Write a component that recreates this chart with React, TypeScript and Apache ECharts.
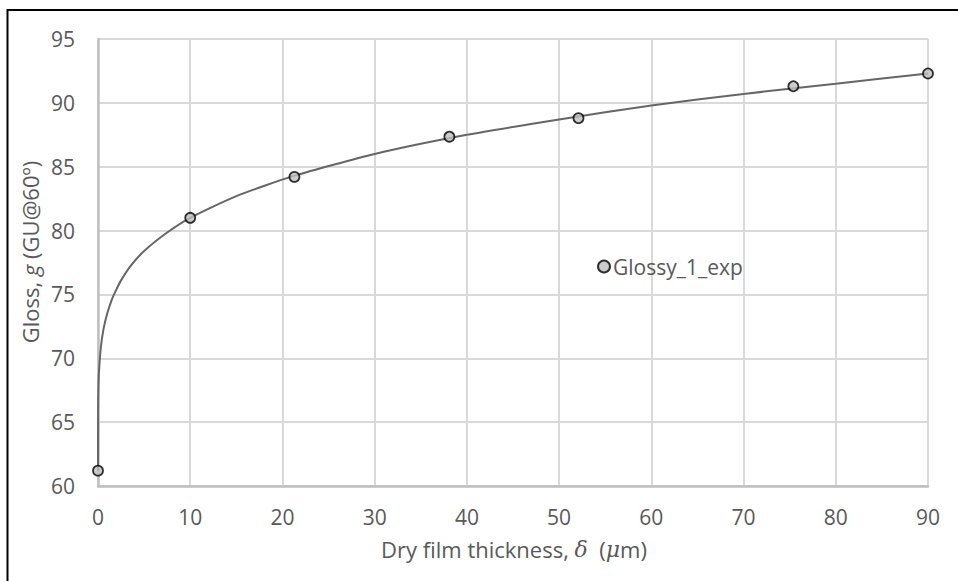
import React, { useEffect, useRef } from "react";
import * as echarts from "echarts";

// Measured points (Glossy_1_exp)
const thicknessExp = [0, 10, 21.3, 38.1, 52.1, 75.4, 90];
const glossExp = [61.2, 81.0, 84.2, 87.35, 88.8, 91.3, 92.3];

// Trendline
const trendX = [0, 0.01, 0.02, 0.05, 0.1, 0.3, 0.6, 1, 1.5, 2, 2.5, 3.5, 5, 7.5, 10, 15, 21.3, 30, 40, 50, 60, 70, 80, 90];
const trendY = [61.2, 66.0, 66.7, 67.9, 68.9, 70.8, 72.3, 73.5, 74.6, 75.4, 76.1, 77.2, 78.4, 79.85, 81.0, 82.7, 84.3, 86.0, 87.5, 88.7, 89.8, 90.7, 91.5, 92.3];

const xTicks = [0, 10, 20, 30, 40, 50, 60, 70, 80, 90];
const yTicks = [60, 65, 70, 75, 80, 85, 90, 95];

const seriesName = "Glossy_1_exp";
const FONT = "Open Sans";
const TEXT = "#595959";

export default function App() {
  const ref = useRef<HTMLDivElement>(null);
  useEffect(() => {
    if (!ref.current) return;
    const chart = echarts.init(ref.current, undefined, { renderer: "svg" });
    const W = 958, H = 581;
    const L = 98, R = 30, T = 39, B = 95;
    chart.setOption({
      animation: false,
      backgroundColor: "#ffffff",
      textStyle: { fontFamily: FONT },
      grid: { left: L, right: R, top: T, bottom: B, containLabel: false },
      xAxis: {
        type: "value",
        min: xTicks[0],
        max: xTicks[xTicks.length - 1],
        interval: 10,
        axisLine: { show: true, onZero: false, lineStyle: { color: "#bfbfbf", width: 2.5 } },
        axisTick: { show: false },
        axisLabel: { color: TEXT, fontSize: 21, fontFamily: FONT, margin: 20 },
        splitLine: { show: true, lineStyle: { color: "#d9d9d9", width: 2 } },
      },
      yAxis: {
        type: "value",
        min: yTicks[0],
        max: yTicks[yTicks.length - 1],
        interval: 5,
        axisLine: { show: true, onZero: false, lineStyle: { color: "#bfbfbf", width: 2.5 } },
        axisTick: { show: false },
        axisLabel: { color: TEXT, fontSize: 21, fontFamily: FONT, margin: 23 },
        splitLine: { show: true, lineStyle: { color: "#d9d9d9", width: 2 } },
      },
      legend: {
        show: true,
        data: [seriesName],
        left: 597,
        top: 256,
        padding: 0,
        itemWidth: 12,
        itemHeight: 12,
        itemGap: 4,
        textStyle: { color: TEXT, fontSize: 21, fontFamily: FONT, padding: [0, 0, 0, -2] },
      },
      series: [
        {
          name: "trend",
          type: "line",
          data: trendX.map((x, i) => [x, trendY[i]]),
          showSymbol: false,
          symbol: "none",
          smooth: 0.2,
          lineStyle: { color: "#666666", width: 2 },
          silent: true,
          z: 2,
        },
        {
          name: seriesName,
          type: "scatter",
          data: thicknessExp.map((x, i) => [x, glossExp[i]]),
          symbol: "circle",
          symbolSize: 10,
          itemStyle: { color: "#bfbfbf", borderColor: "#000000", borderWidth: 1.75 },
          z: 3,
        },
      ],
      graphic: [
        { type: "line", shape: { x1: 7.5, y1: 9, x2: 7.5, y2: H }, style: { stroke: "#000", lineWidth: 2 } },
        { type: "line", shape: { x1: 7, y1: 10, x2: W, y2: 10 }, style: { stroke: "#000", lineWidth: 2 } },
        {
          type: "text",
          x: 514,
          y: 549,
          style: {
            text: "Dry film thickness, {i|δ}  ({i|μ}m)",
            align: "center",
            verticalAlign: "middle",
            fill: TEXT,
            fontSize: 22,
            fontFamily: FONT,
            rich: { i: { fontStyle: "italic", fontSize: 22, fontFamily: "DejaVu Serif", fill: TEXT } },
          },
        },
        {
          type: "text",
          x: 30,
          y: 252,
          rotation: Math.PI / 2,
          style: {
            text: "Gloss, {i|g} (GU@60º)",
            align: "center",
            verticalAlign: "middle",
            fill: TEXT,
            fontSize: 22,
            fontFamily: FONT,
            rich: { i: { fontStyle: "italic", fontSize: 22, fontFamily: FONT, fill: TEXT } },
          },
        },
      ],
    });
    return () => chart.dispose();
  }, []);
  return (
    <div
      ref={ref}
      style={{ position: "fixed", left: 0, top: 0, width: 958, height: 581, background: "#fff" }}
    />
  );
}
